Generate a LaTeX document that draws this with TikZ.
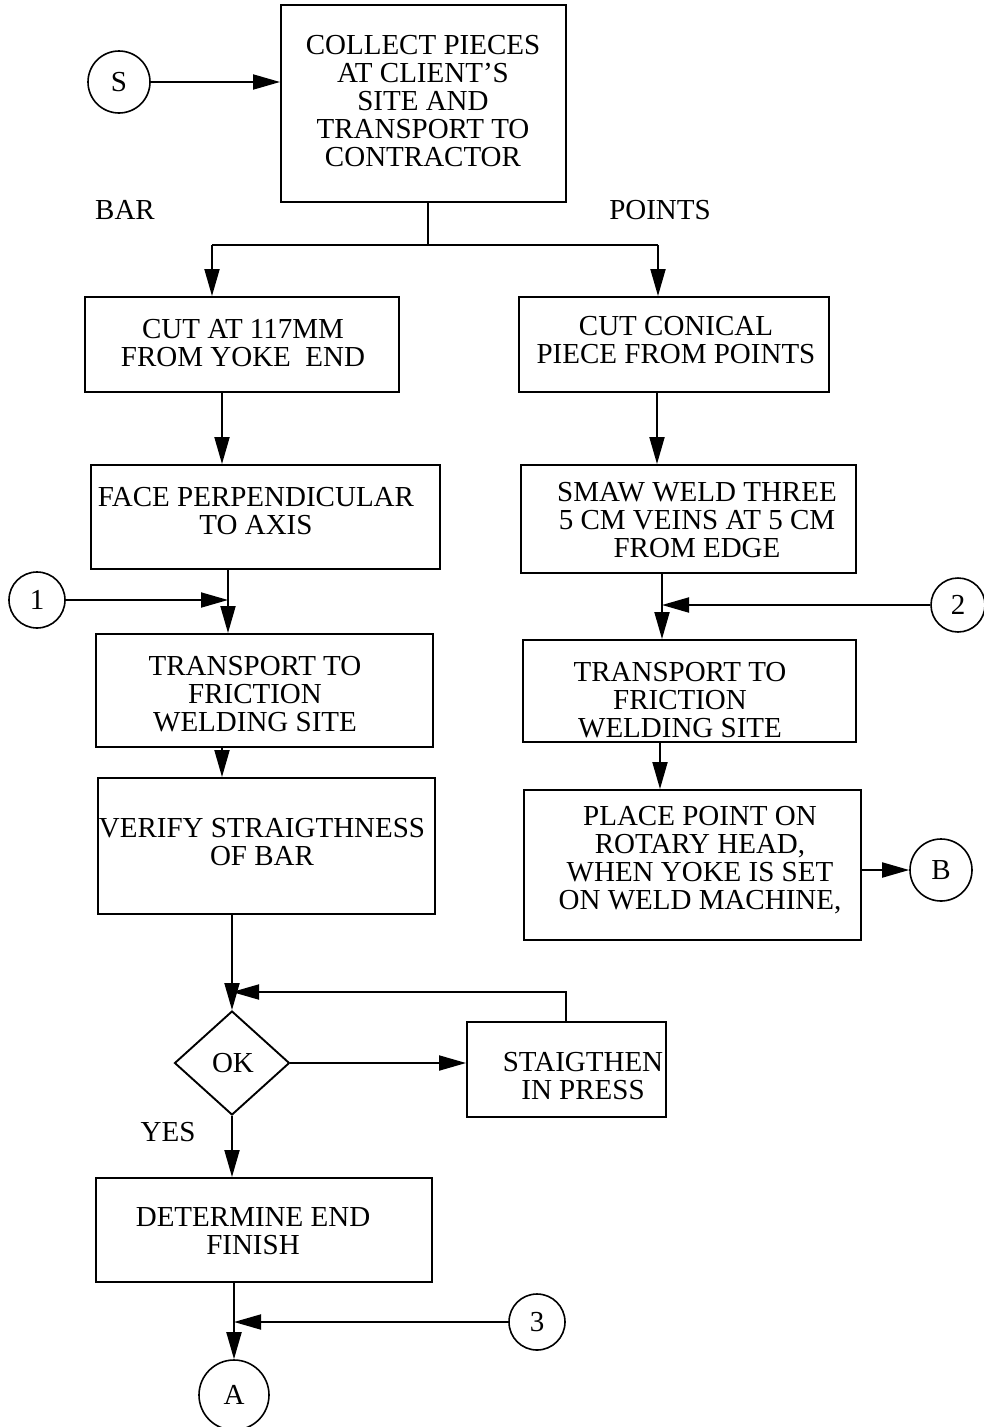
\documentclass[tikz,border=0pt]{standalone}
\usepackage{fontspec}
\setmainfont{Liberation Serif}
\usetikzlibrary{arrows.meta,shapes.geometric}
\begin{document}
\begin{tikzpicture}[x=1pt,y=-1pt,line width=1.9pt,
  box/.style={draw,rectangle,inner sep=0pt},
  conn/.style={draw,circle,inner sep=0pt,line width=1.6pt,font=\fontsize{29}{28}\selectfont},
  txt/.style={align=center,font=\fontsize{29}{28}\selectfont,inner sep=0pt},
  arr/.style={-{Triangle[length=27pt,width=15pt]}}]
\useasboundingbox (0,0) rectangle (984,1427);

% process boxes
\node[box,minimum width=285pt,minimum height=197pt] (collect) at (423.5,103.5) {};
\node[box,minimum width=314pt,minimum height=95pt] (cutL) at (242,344.5) {};
\node[box,minimum width=310pt,minimum height=95pt] (cutR) at (674,344.5) {};
\node[box,minimum width=349pt,minimum height=104pt] (face) at (265.5,517) {};
\node[box,minimum width=335pt,minimum height=108pt] (smaw) at (688.5,519) {};
\node[box,minimum width=337pt,minimum height=113pt] (transL) at (264.5,690.5) {};
\node[box,minimum width=333pt,minimum height=102pt] (transR) at (689.5,691) {};
\node[box,minimum width=337pt,minimum height=136pt] (verify) at (266.5,846) {};
\node[box,minimum width=337pt,minimum height=150pt] (place) at (692.5,865) {};
\node[box,minimum width=199pt,minimum height=95pt] (press) at (566.5,1069.5) {};
\node[box,minimum width=336pt,minimum height=104pt] (determine) at (264,1230) {};
\node[draw,diamond,inner sep=0pt,minimum width=115pt,minimum height=104pt] (ok) at (232,1063) {};

% box texts
\node[txt] (collectT) at (423,101) {COLLECT PIECES\\AT CLIENT'S\\SITE AND\\TRANSPORT TO\\CONTRACTOR};
\node[txt] (cutLT) at (243,343) {CUT AT 117MM\\FROM YOKE\ \ END};
\node[txt] (cutRT) at (676,340) {CUT CONICAL\\PIECE FROM POINTS};
\node[txt] (faceT) at (256,511) {FACE PERPENDICULAR\\TO AXIS};
\node[txt] (smawT) at (697,520) {SMAW WELD THREE\\5 CM VEINS AT 5 CM\\FROM EDGE};
\node[txt] (transLT) at (255,694) {TRANSPORT TO\\FRICTION\\WELDING SITE};
\node[txt] (transRT) at (680,700) {TRANSPORT TO\\FRICTION\\WELDING SITE};
\node[txt] (verifyT) at (262,842) {VERIFY STRAIGTHNESS\\OF BAR};
\node[txt] (placeT) at (700,860) {PLACE POINT ON\\ROTARY HEAD,\\WHEN YOKE IS SET\\ON WELD MACHINE,};
\node[txt] (pressT) at (583,1076) {STAIGTHEN\\IN PRESS};
\node[txt] (determineT) at (253,1231) {DETERMINE END\\FINISH};
\node[txt] (okT) at (233,1063) {OK};

% free labels
\node[txt] (bar) at (125,210) {BAR};
\node[txt] (points) at (660,210) {POINTS};
\node[txt] (yes) at (168,1132) {YES};

% connector circles
\node[conn,minimum size=62pt] (S) at (119,82) {S};
\node[conn,minimum size=56pt] (n1) at (37,600) {1};
\node[conn,minimum size=54pt] (n2) at (958,605) {2};
\node[conn,minimum size=56pt] (n3) at (537,1322) {3};
\node[conn,minimum size=62pt] (B) at (941,870) {B};
\node[conn,minimum size=70pt] (A) at (234,1395) {A};

% junction points
\coordinate (split) at (428,245);
\coordinate (bl) at (212,245);
\coordinate (br) at (658,245);
\coordinate (c1) at (222,0);
\coordinate (j1) at (228,600);
\coordinate (c2) at (222,0);
\coordinate (j4) at (232,992);
\coordinate (r1) at (566,992);
\coordinate (rc1) at (657,0);
\coordinate (j2) at (662,605);
\coordinate (rc3) at (660,0);
\coordinate (j3) at (234,1322);

% connectors
\draw[arr] (S) -- (S -| collect.west);
\draw (collect.south -| split) -- (split);
\draw (bl) -- (br);
\draw[arr] (bl) -- (bl |- cutL.north);
\draw[arr] (br) -- (br |- cutR.north);

\draw[arr] (cutL.south -| c1) -- (face.north -| c1);
\draw (face.south -| j1) -- (j1);
\draw[arr] (j1) -- (j1 |- transL.north);
\draw[arr] (n1) -- (j1);
\draw[arr] (transL.south -| c2) -- (verify.north -| c2);
\draw[arr] (verify.south -| j4) -- (ok.north);
\draw[arr] (press.north -| r1) -- (r1) -- (j4);
\draw[arr] (ok.east) -- (press.west |- ok.east);
\draw[arr] (ok.south) -- (determine.north -| ok.south);
\draw (determine.south -| j3) -- (j3);
\draw[arr] (j3) -- (A);
\draw[arr] (n3) -- (j3);

\draw[arr] (cutR.south -| rc1) -- (smaw.north -| rc1);
\draw (smaw.south -| j2) -- (j2);
\draw[arr] (j2) -- (j2 |- transR.north);
\draw[arr] (n2) -- (j2);
\draw[arr] (transR.south -| rc3) -- (place.north -| rc3);
\draw[arr] (place.east |- B) -- (B);
\end{tikzpicture}
\end{document}
